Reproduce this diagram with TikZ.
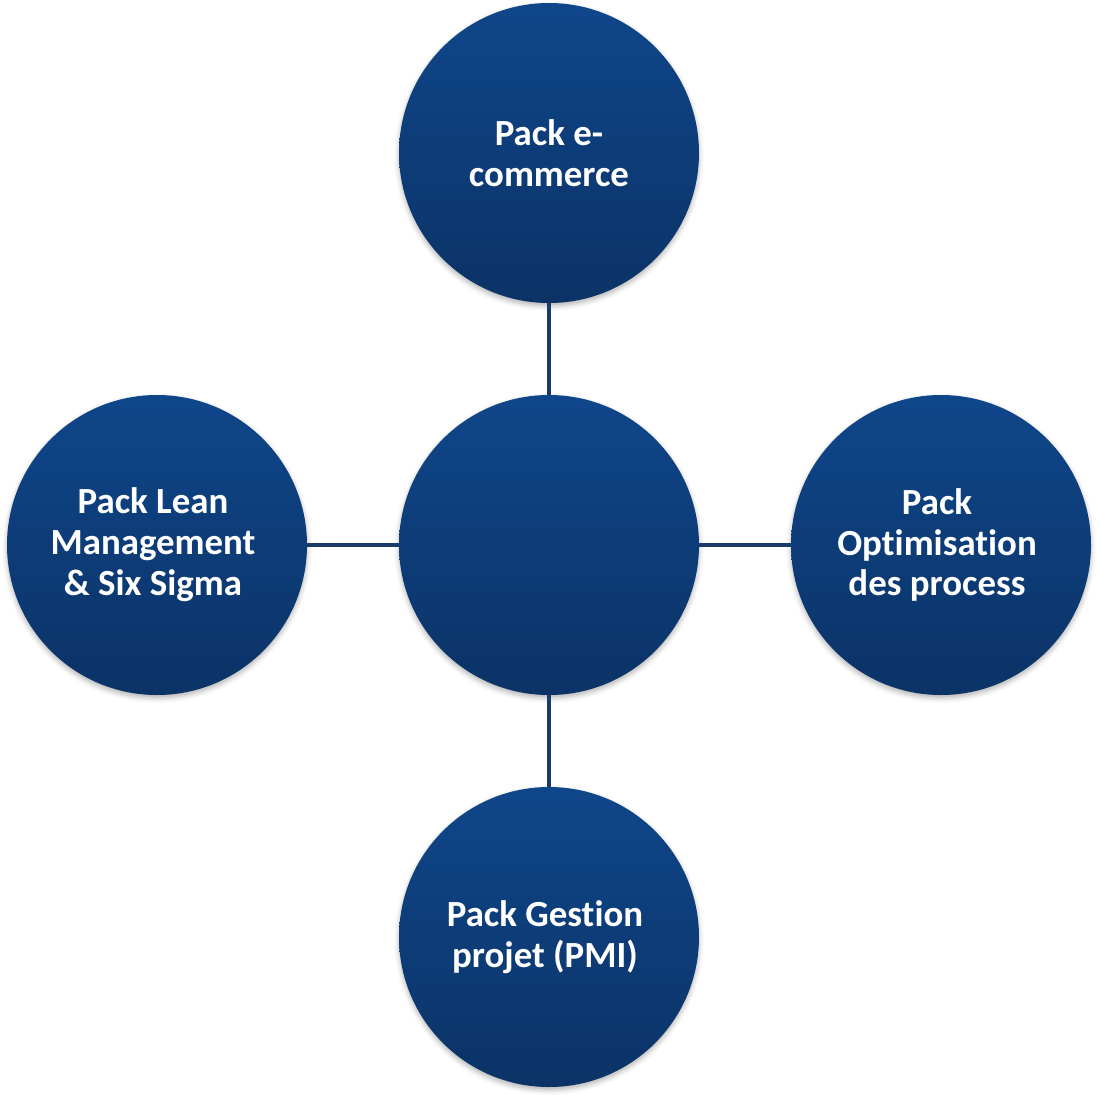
\documentclass[tikz,border=0pt]{standalone}
\usepackage{fontspec}
\setmainfont{Carlito}[Ligatures=NoCommon]
\usetikzlibrary{shadows.blur}
\definecolor{navytop}{HTML}{0F468A}
\definecolor{navybot}{HTML}{0B3366}
\definecolor{linknavy}{HTML}{183B68}
\begin{document}
\begin{tikzpicture}[x=1bp,y=-1bp,
  packcircle/.style={circle, minimum size=300bp, inner sep=0pt,
    top color=navytop, bottom color=navybot, draw=none,
    blur shadow={shadow xshift=0bp, shadow yshift=-3bp,
      shadow blur radius=5bp, shadow opacity=30}},
  packtext/.style={text=white, align=center, inner sep=0pt,
    font=\fontsize{37}{41}\selectfont\bfseries},
  link/.style={draw=linknavy, line width=3.5bp}]
  \useasboundingbox (0,0) rectangle (1099,1098);
  % hub and its four packs
  \node[packcircle] (hub) at (549,545) {};
  \node[packcircle] (top) at (549,153) {};
  \node[packcircle] (left) at (157,545) {};
  \node[packcircle] (right) at (941,545) {};
  \node[packcircle] (bottom) at (549,937) {};
  % pack names
  \node[packtext] (toptext) at (top.center) {Pack e-\\commerce};
  \node[packtext] (lefttext) at ([xshift=-4bp]left.center) {Pack Lean\\Management\\\& Six Sigma};
  \node[packtext] (righttext) at ([xshift=-4bp]right.center) {Pack\\Optimisation\\des process};
  \node[packtext] (bottomtext) at ([xshift=-4bp]bottom.center) {Pack Gestion\\projet (PMI)};
  % spokes
  \draw[link] (hub) -- (top);
  \draw[link] (hub) -- (left);
  \draw[link] (hub) -- (right);
  \draw[link] (hub) -- (bottom);
\end{tikzpicture}
\end{document}
